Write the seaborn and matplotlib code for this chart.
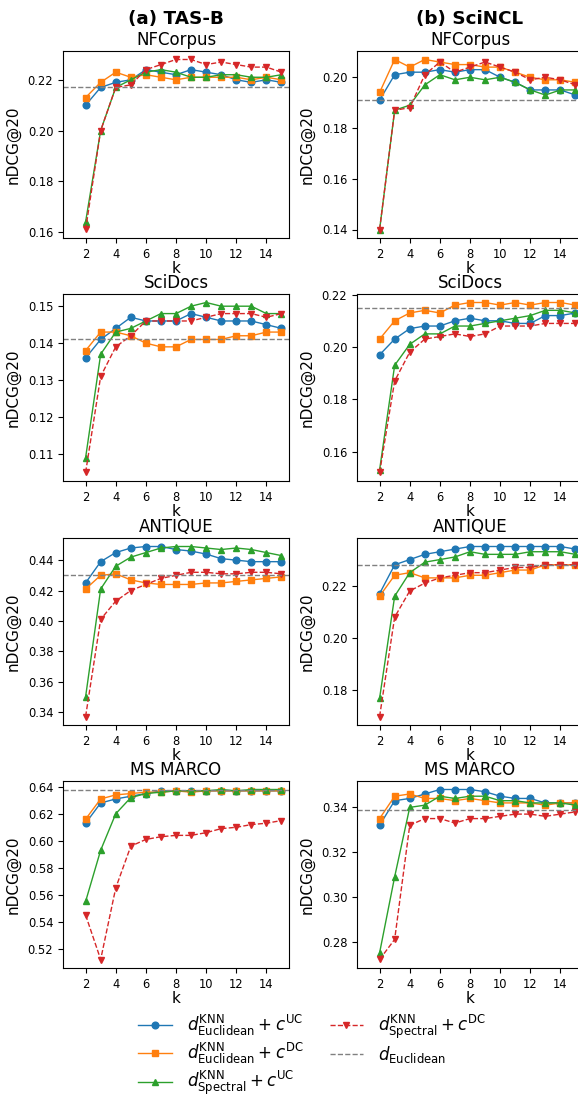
import numpy as np
import pandas as pd
import seaborn as sns
import matplotlib
matplotlib.use("Agg")
import matplotlib.pyplot as plt
from matplotlib.ticker import MultipleLocator, FormatStrFormatter

ks = list(range(2, 16))

models = ["(a) TAS-B", "(b) SciNCL"]
datasets = ["NFCorpus", "SciDocs", "ANTIQUE", "MS MARCO"]

methods = [
    r"$d^{\mathrm{KNN}}_{\mathrm{Euclidean}} + c^{\mathrm{UC}}$",
    r"$d^{\mathrm{KNN}}_{\mathrm{Euclidean}} + c^{\mathrm{DC}}$",
    r"$d^{\mathrm{KNN}}_{\mathrm{Spectral}} + c^{\mathrm{UC}}$",
    r"$d^{\mathrm{KNN}}_{\mathrm{Spectral}} + c^{\mathrm{DC}}$",
]
baseline_label = r"$d_{\mathrm{Euclidean}}$"

# nDCG@20 per k, order: Euclid+UC, Euclid+DC, Spectral+UC, Spectral+DC
tasb_nfcorpus_euc_uc = [0.210, 0.217, 0.219, 0.220, 0.224, 0.223, 0.222, 0.224, 0.223, 0.222, 0.220, 0.219, 0.220, 0.219]
tasb_nfcorpus_euc_dc = [0.213, 0.219, 0.223, 0.221, 0.222, 0.221, 0.220, 0.221, 0.221, 0.221, 0.221, 0.220, 0.221, 0.220]
tasb_nfcorpus_spe_uc = [0.164, 0.200, 0.217, 0.220, 0.223, 0.224, 0.223, 0.221, 0.221, 0.222, 0.222, 0.221, 0.221, 0.222]
tasb_nfcorpus_spe_dc = [0.161, 0.200, 0.217, 0.218, 0.224, 0.226, 0.228, 0.228, 0.226, 0.227, 0.226, 0.225, 0.225, 0.223]

tasb_scidocs_euc_uc = [0.136, 0.141, 0.144, 0.147, 0.146, 0.146, 0.146, 0.148, 0.147, 0.146, 0.146, 0.146, 0.145, 0.144]
tasb_scidocs_euc_dc = [0.138, 0.143, 0.143, 0.142, 0.140, 0.139, 0.139, 0.141, 0.141, 0.141, 0.142, 0.142, 0.143, 0.143]
tasb_scidocs_spe_uc = [0.109, 0.137, 0.143, 0.144, 0.146, 0.148, 0.148, 0.150, 0.151, 0.150, 0.150, 0.150, 0.148, 0.148]
tasb_scidocs_spe_dc = [0.105, 0.131, 0.139, 0.142, 0.146, 0.146, 0.146, 0.146, 0.147, 0.148, 0.148, 0.148, 0.147, 0.148]

tasb_antique_euc_uc = [0.425, 0.439, 0.445, 0.448, 0.449, 0.449, 0.447, 0.446, 0.444, 0.441, 0.440, 0.439, 0.439, 0.439]
tasb_antique_euc_dc = [0.421, 0.430, 0.431, 0.427, 0.425, 0.424, 0.424, 0.424, 0.425, 0.425, 0.426, 0.427, 0.428, 0.429]
tasb_antique_spe_uc = [0.350, 0.421, 0.436, 0.442, 0.445, 0.448, 0.449, 0.449, 0.448, 0.447, 0.448, 0.447, 0.445, 0.443]
tasb_antique_spe_dc = [0.337, 0.401, 0.413, 0.420, 0.424, 0.428, 0.430, 0.432, 0.432, 0.431, 0.431, 0.432, 0.432, 0.431]

tasb_msmarco_euc_uc = [0.613, 0.628, 0.631, 0.633, 0.635, 0.637, 0.637, 0.637, 0.637, 0.637, 0.637, 0.637, 0.637, 0.637]
tasb_msmarco_euc_dc = [0.616, 0.631, 0.634, 0.635, 0.636, 0.636, 0.637, 0.636, 0.637, 0.637, 0.637, 0.637, 0.637, 0.637]
tasb_msmarco_spe_uc = [0.555, 0.593, 0.620, 0.632, 0.635, 0.636, 0.637, 0.637, 0.637, 0.638, 0.637, 0.638, 0.638, 0.638]
tasb_msmarco_spe_dc = [0.545, 0.512, 0.565, 0.596, 0.601, 0.603, 0.604, 0.604, 0.606, 0.609, 0.610, 0.612, 0.613, 0.615]

scincl_nfcorpus_euc_uc = [0.191, 0.201, 0.202, 0.202, 0.203, 0.202, 0.203, 0.203, 0.200, 0.198, 0.195, 0.195, 0.195, 0.193]
scincl_nfcorpus_euc_dc = [0.194, 0.207, 0.204, 0.207, 0.206, 0.205, 0.205, 0.204, 0.204, 0.202, 0.200, 0.199, 0.199, 0.198]
scincl_nfcorpus_spe_uc = [0.140, 0.187, 0.189, 0.197, 0.201, 0.199, 0.200, 0.199, 0.200, 0.198, 0.195, 0.193, 0.195, 0.195]
scincl_nfcorpus_spe_dc = [0.140, 0.187, 0.188, 0.201, 0.206, 0.202, 0.204, 0.206, 0.204, 0.202, 0.199, 0.200, 0.199, 0.197]

scincl_scidocs_euc_uc = [0.197, 0.203, 0.207, 0.208, 0.208, 0.210, 0.211, 0.210, 0.210, 0.209, 0.209, 0.212, 0.212, 0.213]
scincl_scidocs_euc_dc = [0.203, 0.210, 0.213, 0.214, 0.213, 0.216, 0.217, 0.217, 0.216, 0.217, 0.216, 0.217, 0.217, 0.216]
scincl_scidocs_spe_uc = [0.153, 0.193, 0.201, 0.205, 0.205, 0.208, 0.208, 0.209, 0.210, 0.211, 0.212, 0.214, 0.214, 0.213]
scincl_scidocs_spe_dc = [0.152, 0.187, 0.198, 0.203, 0.204, 0.205, 0.204, 0.205, 0.208, 0.208, 0.208, 0.209, 0.209, 0.209]

scincl_antique_euc_uc = [0.217, 0.228, 0.230, 0.232, 0.233, 0.234, 0.235, 0.235, 0.235, 0.235, 0.235, 0.235, 0.235, 0.234]
scincl_antique_euc_dc = [0.216, 0.224, 0.225, 0.223, 0.223, 0.223, 0.224, 0.224, 0.225, 0.226, 0.226, 0.228, 0.228, 0.228]
scincl_antique_spe_uc = [0.177, 0.216, 0.225, 0.229, 0.230, 0.231, 0.233, 0.232, 0.232, 0.232, 0.233, 0.233, 0.233, 0.232]
scincl_antique_spe_dc = [0.170, 0.208, 0.218, 0.221, 0.223, 0.224, 0.225, 0.225, 0.226, 0.227, 0.227, 0.228, 0.228, 0.228]

scincl_msmarco_euc_uc = [0.332, 0.343, 0.344, 0.346, 0.348, 0.348, 0.348, 0.347, 0.345, 0.344, 0.344, 0.342, 0.342, 0.342]
scincl_msmarco_euc_dc = [0.335, 0.345, 0.346, 0.344, 0.344, 0.343, 0.344, 0.343, 0.342, 0.342, 0.342, 0.341, 0.342, 0.342]
scincl_msmarco_spe_uc = [0.275, 0.309, 0.340, 0.341, 0.345, 0.344, 0.345, 0.345, 0.343, 0.343, 0.342, 0.342, 0.342, 0.341]
scincl_msmarco_spe_dc = [0.272, 0.281, 0.332, 0.335, 0.335, 0.333, 0.335, 0.335, 0.336, 0.337, 0.337, 0.336, 0.337, 0.338]

# Dense-retrieval baseline (plain Euclidean) per dataset
tasb_baseline = [0.217, 0.141, 0.430, 0.638]
scincl_baseline = [0.191, 0.215, 0.228, 0.339]

# y tick spacing per panel
tasb_ystep = [0.02, 0.01, 0.02, 0.02]
scincl_ystep = [0.02, 0.02, 0.02, 0.02]

results = {
    models[0]: [
        [tasb_nfcorpus_euc_uc, tasb_nfcorpus_euc_dc, tasb_nfcorpus_spe_uc, tasb_nfcorpus_spe_dc],
        [tasb_scidocs_euc_uc, tasb_scidocs_euc_dc, tasb_scidocs_spe_uc, tasb_scidocs_spe_dc],
        [tasb_antique_euc_uc, tasb_antique_euc_dc, tasb_antique_spe_uc, tasb_antique_spe_dc],
        [tasb_msmarco_euc_uc, tasb_msmarco_euc_dc, tasb_msmarco_spe_uc, tasb_msmarco_spe_dc],
    ],
    models[1]: [
        [scincl_nfcorpus_euc_uc, scincl_nfcorpus_euc_dc, scincl_nfcorpus_spe_uc, scincl_nfcorpus_spe_dc],
        [scincl_scidocs_euc_uc, scincl_scidocs_euc_dc, scincl_scidocs_spe_uc, scincl_scidocs_spe_dc],
        [scincl_antique_euc_uc, scincl_antique_euc_dc, scincl_antique_spe_uc, scincl_antique_spe_dc],
        [scincl_msmarco_euc_uc, scincl_msmarco_euc_dc, scincl_msmarco_spe_uc, scincl_msmarco_spe_dc],
    ],
}
baselines = {models[0]: tasb_baseline, models[1]: scincl_baseline}
ysteps = {models[0]: tasb_ystep, models[1]: scincl_ystep}

rows = []
for model in models:
    for d, dataset in enumerate(datasets):
        for m, method in enumerate(methods):
            for k, v in zip(ks, results[model][d][m]):
                rows.append(dict(model=model, dataset=dataset, method=method, k=k, ndcg=v))
df = pd.DataFrame(rows)

colors = ["#1f77b4", "#ff7f0e", "#2ca02c", "#d62728"]
markers = ["o", "s", "^", "v"]
linestyles = ["-", "-", "-", "--"]

plt.rcParams["mathtext.fontset"] = "dejavusans"
plt.rcParams["font.family"] = ["DejaVu Sans"]

W, H = 578, 1097
fig = plt.figure(figsize=(W / 100, H / 100), dpi=100)

col_left = [63, 357]
ax_w = 226
row_top = [51, 294, 538, 781]
ax_h = 187

for c, model in enumerate(models):
    for r, dataset in enumerate(datasets):
        x0 = col_left[c] / W
        y0 = 1 - (row_top[r] + ax_h) / H
        ax = fig.add_axes([x0, y0, ax_w / W, ax_h / H])
        sub = df[(df.model == model) & (df.dataset == dataset)]
        for m, method in enumerate(methods):
            sns.lineplot(
                data=sub[sub.method == method], x="k", y="ndcg", ax=ax,
                color=colors[m], marker=markers[m], linestyle=linestyles[m],
                markersize=4.8, linewidth=1.0,
                markeredgecolor=colors[m], markeredgewidth=1.0,
                label=method,
            )
        ax.axhline(baselines[model][r], color="gray", linestyle="--",
                   linewidth=1.0, label=baseline_label)
        ax.set_xlim(0.5, 15.5)
        ax.set_xticks([2, 4, 6, 8, 10, 12, 14])
        ax.yaxis.set_major_locator(MultipleLocator(ysteps[model][r]))
        ax.yaxis.set_major_formatter(FormatStrFormatter("%.2f"))
        ax.tick_params(labelsize=8.3)
        ax.set_xlabel("k", fontsize=11, labelpad=0)
        ax.set_ylabel("nDCG@20", fontsize=11, labelpad=5)
        ax.set_title(dataset, fontsize=12, pad=4)
        handles, labels = ax.get_legend_handles_labels()
        ax.get_legend().remove()
    fig.text((col_left[c] + ax_w / 2) / W, 1 - 19 / H, model,
             fontsize=13.2, fontweight="bold", ha="center", va="center")

fig.legend(handles, labels, loc="upper center", ncol=2, frameon=False,
           bbox_to_anchor=(0.54, 1 - 1001 / H), fontsize=12,
           handlelength=2.0, handletextpad=0.9, columnspacing=1.6,
           labelspacing=0.18, borderpad=0.2)

fig.savefig("out.png", dpi=100)
